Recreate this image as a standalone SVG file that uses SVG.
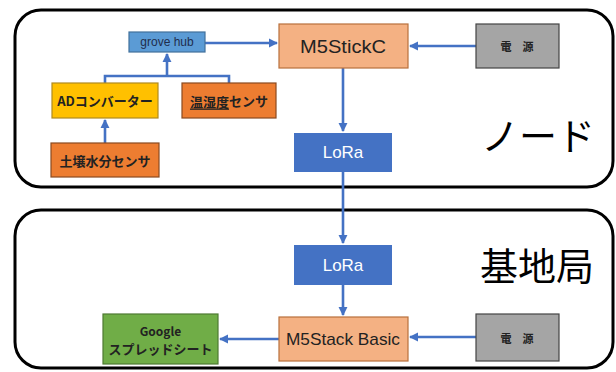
<svg xmlns="http://www.w3.org/2000/svg" width="616" height="372" viewBox="0 0 616 372">
<style>
.frame{fill:#fff;stroke:#000;stroke-width:3}
.box{stroke-width:1.2}
.t{font-family:"Liberation Sans","Noto Sans CJK JP",sans-serif;text-anchor:middle;dominant-baseline:central}
.jb{font-family:"Noto Sans CJK JP",sans-serif;font-weight:bold;text-anchor:middle;dominant-baseline:central;fill:#222}
.big{font-family:"Noto Sans CJK JP",sans-serif;font-size:38px;fill:#000;text-anchor:middle}
.c{fill:none;stroke:#4472c4;stroke-width:2.6}
</style>
<defs>
<marker id="ah" viewBox="0 0 10 10" refX="9" refY="5" markerWidth="3.6" markerHeight="3.6" orient="auto" markerUnits="strokeWidth">
<path d="M0,0 L10,5 L0,10 z" fill="#4472c4"/>
</marker>
</defs>
<rect width="616" height="372" fill="#fff"/>
<g id="node-area">
<rect class="frame" x="15" y="10" width="598" height="177" rx="26"/>
<text class="big" x="538" y="150">ノード</text>
</g>
<g id="base-area">
<rect class="frame" x="15" y="210" width="598" height="158" rx="26"/>
<text class="big" x="537" y="280">基地局</text>
</g>
<g id="connectors">
<path class="c" d="M205,43 H277" marker-end="url(#ah)"/>
<path class="c" d="M476,46 H410" marker-end="url(#ah)"/>
<path class="c" d="M343,68 V131" marker-end="url(#ah)"/>
<path class="c" d="M105,83 V76 H229 V83"/>
<path class="c" d="M167,76 V54" marker-end="url(#ah)"/>
<path class="c" d="M105,143 V120" marker-end="url(#ah)"/>
<path class="c" d="M343,172 V243" marker-end="url(#ah)"/>
<path class="c" d="M343,285 V315" marker-end="url(#ah)"/>
<path class="c" d="M476,337 H410" marker-end="url(#ah)"/>
<path class="c" d="M279,339 H220" marker-end="url(#ah)"/>
</g>
<g id="grove-hub">
<rect class="box" x="129" y="32" width="76" height="20" fill="#5b9bd5" stroke="#41719c"/>
<text class="t" x="167" y="42" font-size="12" fill="#1f2d4d">grove hub</text>
</g>
<g id="m5stickc">
<rect class="box" x="279" y="24" width="129" height="44" fill="#f4b183" stroke="#b8703c"/>
<text class="t" x="343" y="46" font-size="19" fill="#222" textLength="86" lengthAdjust="spacingAndGlyphs">M5StickC</text>
</g>
<g id="power-top">
<rect class="box" x="476" y="24" width="83" height="44" fill="#a5a5a5" stroke="#444"/>
<text class="jb" x="517" y="46" font-size="11">電　源</text>
</g>
<g id="ad-converter">
<rect class="box" x="52" y="83" width="106" height="35" fill="#ffc000" stroke="#b08a20"/>
<text class="jb" x="105" y="100.5" font-size="13">ADコンバーター</text>
</g>
<g id="temp-humidity">
<rect class="box" x="182" y="83" width="94" height="35" fill="#ed7d31" stroke="#8a4a20"/>
<text class="jb" x="229" y="100.5" font-size="13"><tspan text-decoration="underline">温湿度</tspan>センサ</text>
</g>
<g id="soil-sensor">
<rect class="box" x="51" y="143" width="108" height="34" fill="#ed7d31" stroke="#8a4a20"/>
<text class="jb" x="105" y="160" font-size="13">土壌水分センサ</text>
</g>
<g id="lora-node">
<rect x="294" y="133" width="98" height="39" fill="#4472c4"/>
<text class="t" x="343" y="152.5" font-size="17" fill="#fff">LoRa</text>
</g>
<g id="lora-base">
<rect x="294" y="245" width="98" height="40" fill="#4472c4"/>
<text class="t" x="343" y="265" font-size="17" fill="#fff">LoRa</text>
</g>
<g id="m5stack-basic">
<rect class="box" x="279" y="317" width="129" height="44" fill="#f4b183" stroke="#b8703c"/>
<text class="t" x="343" y="339" font-size="17" fill="#222" textLength="114" lengthAdjust="spacingAndGlyphs">M5Stack Basic</text>
</g>
<g id="power-base">
<rect class="box" x="476" y="314" width="83" height="47" fill="#a5a5a5" stroke="#444"/>
<text class="jb" x="517" y="337.5" font-size="11">電　源</text>
</g>
<g id="google-sheet">
<rect class="box" x="103" y="314" width="115" height="50" fill="#70ad47" stroke="#4e7a32"/>
<text class="jb" x="160.5" y="330" font-size="12">Google</text>
<text class="jb" x="160.5" y="348" font-size="13">スプレッドシート</text>
</g>
</svg>
